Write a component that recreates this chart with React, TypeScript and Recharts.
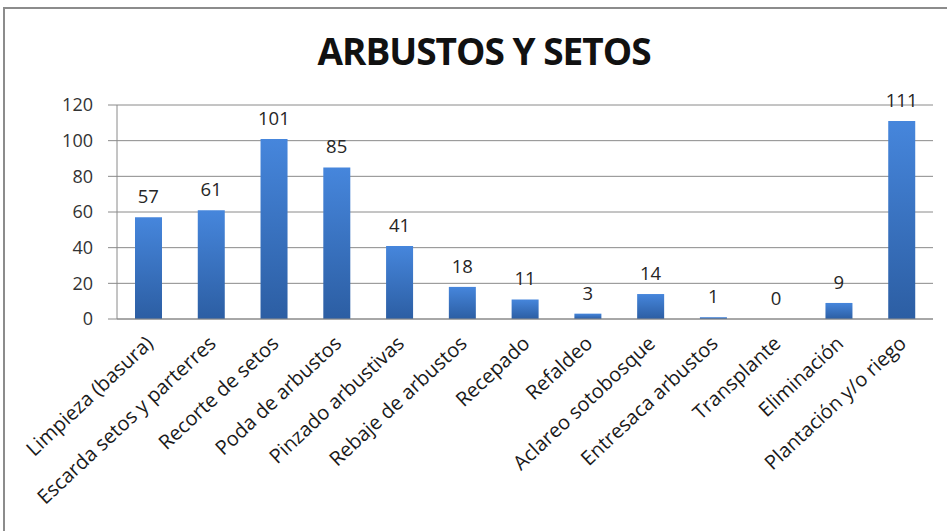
import { ComposedChart, Bar, Line, XAxis, YAxis, CartesianGrid, LabelList } from "recharts";

const categories = [
  "Limpieza (basura)",
  "Escarda setos y parterres",
  "Recorte de setos",
  "Poda de arbustos",
  "Pinzado arbustivas",
  "Rebaje de arbustos",
  "Recepado",
  "Refaldeo",
  "Aclareo sotobosque",
  "Entresaca arbustos",
  "Transplante",
  "Eliminación",
  "Plantación y/o riego",
];
const values = [57, 61, 101, 85, 41, 18, 11, 3, 14, 1, 0, 9, 111];
const yTicks = [0, 20, 40, 60, 80, 100, 120];
const boundaryTicks = [0, 1, 2, 3, 4, 5, 6, 7, 8, 9, 10, 11, 12, 13];

const data = categories.map((name, i) => ({ name, value: values[i] }));

const font = "'Open Sans', sans-serif";
const gray = "#8a8a8a";

const CategoryTick = (props: any) => {
  const { x, y, payload } = props;
  const ax = x + 6;
  const ay = y + 26;
  return (
    <text
      x={ax}
      y={ay}
      transform={`rotate(-43 ${ax} ${ay})`}
      textAnchor="end"
      fontFamily={font}
      fontSize={20}
      fill="#1a1a1a"
    >
      {payload.value}
    </text>
  );
};

const App = () => {
  return (
    <div
      style={{
        position: "absolute",
        left: 0,
        top: 0,
        width: 947,
        height: 531,
        overflow: "hidden",
        background: "#fff",
      }}
    >
      <div
        style={{
          position: "absolute",
          left: 3,
          top: 7,
          width: 1000,
          height: 600,
          border: "2px solid #8c8c8c",
          boxSizing: "border-box",
        }}
      />
      <div
        style={{
          position: "absolute",
          left: 0,
          top: 25,
          width: 968,
          textAlign: "center",
          fontFamily: font,
          fontWeight: 700,
          fontSize: 37,
          letterSpacing: -1,
          color: "#111",
        }}
      >
        ARBUSTOS Y SETOS
      </div>
      <ComposedChart
        width={947}
        height={531}
        data={data}
        margin={{ top: 105, right: 14, left: 0, bottom: 0 }}
        style={{ position: "absolute", left: 0, top: 0 }}
      >
        <defs>
          <linearGradient id="barFill" x1="0" y1="0" x2="0" y2="1">
            <stop offset="0%" stopColor="#4686dc" />
            <stop offset="100%" stopColor="#2c5ea3" />
          </linearGradient>
        </defs>
        <CartesianGrid vertical={false} stroke={gray} strokeWidth={1} />
        <XAxis
          xAxisId="bounds"
          type="number"
          domain={[0, 13]}
          ticks={boundaryTicks}
          allowDataOverflow
          tick={false}
          tickSize={7}
          axisLine={false}
          tickLine={{ stroke: gray }}
          height={0}
        />
        <XAxis
          dataKey="name"
          interval={0}
          tickLine={false}
          tickSize={0}
          tickMargin={0}
          axisLine={{ stroke: gray }}
          tick={<CategoryTick />}
          height={212}
        />
        <YAxis
          domain={[0, 120]}
          ticks={yTicks}
          interval={0}
          width={117}
          tickSize={9}
          tickMargin={15}
          axisLine={{ stroke: gray }}
          tickLine={{ stroke: gray }}
          tick={{ fontFamily: font, fontSize: 18, fill: "#333" }}
        />
        <Bar dataKey="value" fill="url(#barFill)" barSize={27} isAnimationActive={false} />
        <Line
          dataKey="value"
          stroke="none"
          dot={false}
          activeDot={false}
          legendType="none"
          isAnimationActive={false}
        >
          <LabelList
            dataKey="value"
            position="top"
            offset={14}
            fontFamily={font}
            fontSize={18.5}
            fill="#262626"
          />
        </Line>
      </ComposedChart>
    </div>
  );
};

export default App;
